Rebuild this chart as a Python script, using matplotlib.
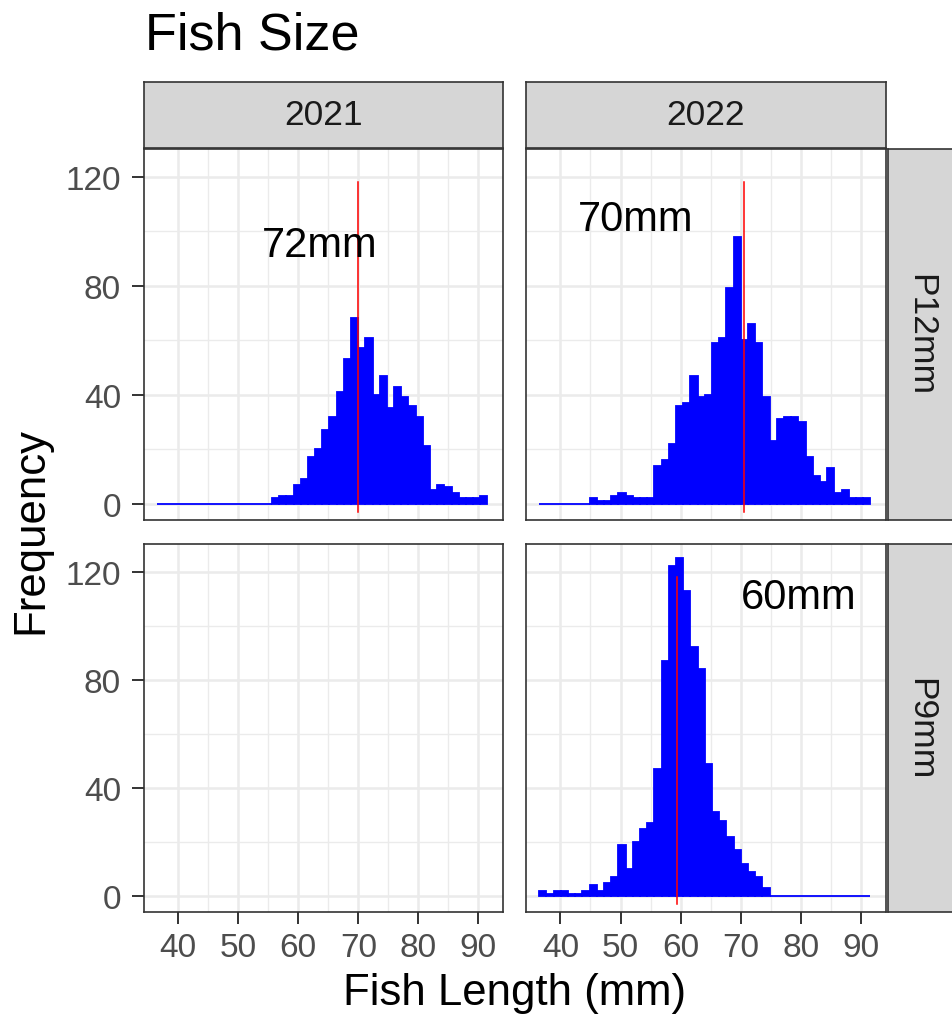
import numpy as np
import matplotlib
matplotlib.use("Agg")
import matplotlib.pyplot as plt

plt.rcParams['font.family'] = ['Liberation Sans', 'DejaVu Sans']

# ---------------- data ----------------
years = ["2021", "2022"]
mesh = ["P12mm", "P9mm"]
bin_lo, bin_hi, n_bins = 36.5, 91.5, 46

counts_2021_P12 = [0, 0, 0, 0, 0, 0, 0, 0, 0, 0, 0, 0, 0, 0, 0, 0,
                   2, 3, 3, 7, 9, 17, 20, 27, 32, 41, 53, 68, 57, 61, 40, 47,
                   35, 43, 39, 36, 32, 21, 5, 7, 6, 4, 2, 2, 2, 3]
counts_2022_P12 = [0, 0, 0, 0, 0, 0, 0,
                   2, 1, 1, 3, 4, 3, 2, 2, 2, 14, 16, 22, 36, 37, 47, 39, 40,
                   59, 61, 79, 98, 60, 66, 59, 39, 23, 31, 32, 32, 30, 17, 10,
                   8, 13, 4, 5, 2, 2, 2]
counts_2022_P9 = [2, 1, 2, 2, 1, 1, 2, 4, 2, 5, 7, 19, 10, 20, 25, 27, 47, 87,
                  122, 125, 113, 92, 84, 49, 31, 28, 22, 17, 12, 9, 7, 3,
                  0, 0, 0, 0, 0, 0, 0, 0, 0, 0, 0, 0, 0, 0]

# panel (row, col) -> counts
panel_counts = {(0, 0): counts_2021_P12, (0, 1): counts_2022_P12,
                (1, 1): counts_2022_P9}

median_x = {(0, 0): 70.0, (0, 1): 70.55, (1, 1): 59.45}
median_y0 = -3
median_y1 = 118
label_text = {(0, 0): "72mm", (0, 1): "70mm", (1, 1): "60mm"}
label_x = {(0, 0): 63.6, (0, 1): 52.5, (1, 1): 79.6}
label_y = {(0, 0): 95.0, (0, 1): 104.6, (1, 1): 110.6}

x_ticks = [40, 50, 60, 70, 80, 90]
x_minor = [45, 55, 65, 75, 85]
y_ticks = [0, 40, 80, 120]
y_minor = [20, 60, 100]

# ---------------- layout ----------------
W, H = 952, 1020
fig = plt.figure(figsize=(W / 100, H / 100), dpi=100)

def fbox(x0, y0, x1, y1):
    return [x0 / W, 1 - y1 / H, (x1 - x0) / W, (y1 - y0) / H]

col_x = [(144, 503), (526, 886)]
row_y = [(150, 520.5), (545, 913)]
strip_top = (83, 148.5)
strip_right = (887.5, 953)

grey20 = "#333333"
grey30 = "#4D4D4D"
grid_c = "#EBEBEB"
strip_c = "#D6D6D6"
edges = np.linspace(bin_lo, bin_hi, n_bins + 1)
bw = edges[1] - edges[0]

for r in range(2):
    for c in range(2):
        ax = fig.add_axes(fbox(col_x[c][0], row_y[r][0], col_x[c][1], row_y[r][1]))
        ax.set_xlim(34.3, 94.1)
        ax.set_ylim(-5.8, 130.2)
        ax.set_xticks(x_ticks)
        ax.set_xticks(x_minor, minor=True)
        ax.set_yticks(y_ticks)
        ax.set_yticks(y_minor, minor=True)
        ax.grid(which='major', color=grid_c, lw=1.8, zorder=0)
        ax.grid(which='minor', color=grid_c, lw=1.0, zorder=0)
        ax.set_axisbelow(True)
        for s in ax.spines.values():
            s.set_color(grey20)
            s.set_linewidth(1.2)
        ax.tick_params(which='minor', length=0)
        ax.tick_params(which='major', length=8.6, width=1.4, color=grey20,
                       labelsize=24, labelcolor=grey30)
        ax.tick_params(axis='y', pad=8)
        ax.tick_params(axis='x', pad=6)
        if c == 1:
            ax.tick_params(axis='y', labelleft=False, length=0)
        if r == 0:
            ax.tick_params(axis='x', labelbottom=False, length=0)
        key = (r, c)
        if key in panel_counts:
            ax.bar(edges[:-1], panel_counts[key], width=bw, align='edge',
                   color='#0000FF', edgecolor='#0000FF', lw=1.3, zorder=2)
            ax.plot([median_x[key], median_x[key]], [median_y0, median_y1],
                    color='#FF0000', lw=1.1, zorder=3)
            ax.text(label_x[key], label_y[key], label_text[key], fontsize=30,
                    ha='center', va='center', color='black', zorder=4)

# top strips
for c in range(2):
    sax = fig.add_axes(fbox(col_x[c][0], strip_top[0], col_x[c][1], strip_top[1]))
    sax.set_facecolor(strip_c)
    sax.set_xticks([]); sax.set_yticks([])
    for s in sax.spines.values():
        s.set_color(grey20); s.set_linewidth(1.2)
    sax.text(0.5, 0.5, years[c], transform=sax.transAxes, ha='center',
             va='center', fontsize=25.5, color="#1A1A1A")

# right strips
for r in range(2):
    sax = fig.add_axes(fbox(strip_right[0], row_y[r][0], strip_right[1], row_y[r][1]))
    sax.set_facecolor(strip_c)
    sax.set_xticks([]); sax.set_yticks([])
    for s in sax.spines.values():
        s.set_color(grey20); s.set_linewidth(1.2)
    sax.text(0.5, 0.5, mesh[r], transform=sax.transAxes, ha='center',
             va='center', fontsize=25.5, color="#1A1A1A", rotation=-90)

fig.text(145 / W, 1 - 50 / H, "Fish Size", fontsize=37.5, ha='left',
         va='baseline', color='black')
fig.text(515 / W, 1 - 994 / H, "Fish Length (mm)", fontsize=31.5,
         ha='center', va='center', color='black')
fig.text(31 / W, 1 - 531 / H, "Frequency", fontsize=31.5, ha='center',
         va='center', rotation=90, color='black')

fig.savefig("out.png", dpi=100, facecolor='white')
